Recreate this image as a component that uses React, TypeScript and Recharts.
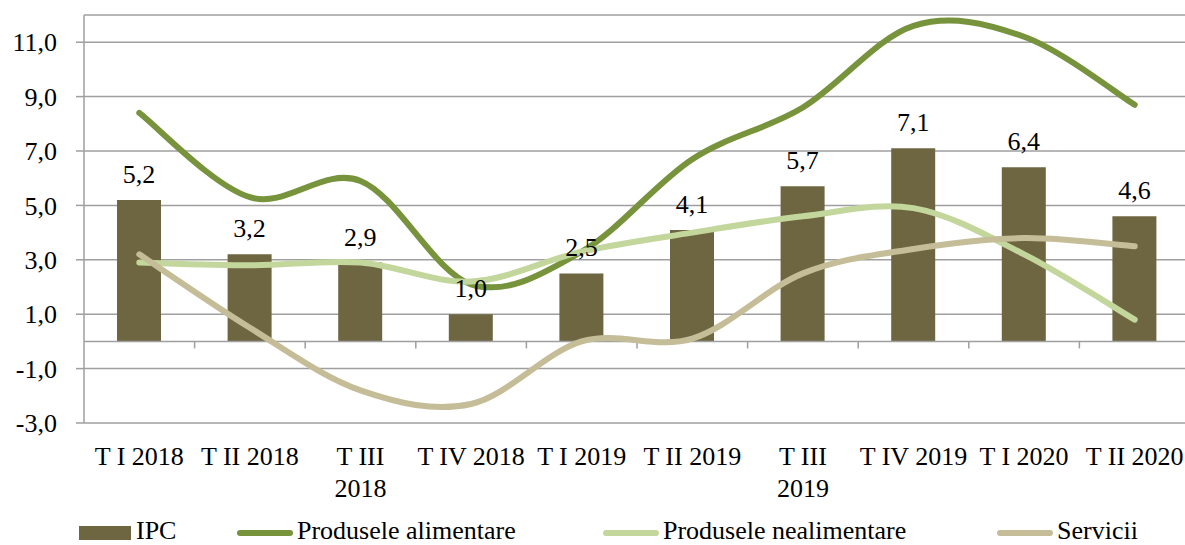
import React from "react";
import {
  ComposedChart,
  Bar,
  Line,
  XAxis,
  YAxis,
  CartesianGrid,
  ReferenceLine,
  LabelList,
} from "recharts";

// trimestre
const categories = [
  "T I 2018",
  "T II 2018",
  "T III\n2018",
  "T IV 2018",
  "T I 2019",
  "T II 2019",
  "T III\n2019",
  "T IV 2019",
  "T I 2020",
  "T II 2020",
];
const ipc = [5.2, 3.2, 2.9, 1.0, 2.5, 4.1, 5.7, 7.1, 6.4, 4.6];
const alimentare = [8.4, 5.3, 5.9, 2.1, 3.3, 6.7, 8.6, 11.6, 11.2, 8.7];
const nealimentare = [2.9, 2.8, 2.9, 2.2, 3.3, 4.0, 4.6, 4.9, 3.2, 0.8];
const servicii = [3.2, 0.5, -1.8, -2.3, 0.0, 0.1, 2.5, 3.4, 3.8, 3.5];
const yTicks = [-3, -1, 1, 3, 5, 7, 9, 11];

const FONT = "'Liberation Serif', 'Times New Roman', serif";
const GRID = "#9f9f9f";
const COLORS = {
  ipc: "#6e6641",
  alimentare: "#77933c",
  nealimentare: "#c3d69b",
  servicii: "#c4bd97",
};

const data = categories.map((cat, i) => ({
  cat,
  ipc: ipc[i],
  alimentare: alimentare[i],
  nealimentare: nealimentare[i],
  servicii: servicii[i],
}));

const fmt = (v: any) => Number(v).toFixed(1).replace(".", ",");

// netezire ca in Excel (Catmull-Rom -> Bezier)
const smoothCurve: any = (context: any) => {
  let pts: number[][] = [];
  return {
    areaStart() {},
    areaEnd() {},
    lineStart() {
      pts = [];
    },
    point(x: number, y: number) {
      pts.push([+x, +y]);
    },
    lineEnd() {
      const n = pts.length;
      if (!n) return;
      context.moveTo(pts[0][0], pts[0][1]);
      for (let i = 0; i < n - 1; i++) {
        const p0 = pts[Math.max(i - 1, 0)];
        const p1 = pts[i];
        const p2 = pts[i + 1];
        const p3 = pts[Math.min(i + 2, n - 1)];
        context.bezierCurveTo(
          p1[0] + (p2[0] - p0[0]) / 6,
          p1[1] + (p2[1] - p0[1]) / 6,
          p2[0] - (p3[0] - p1[0]) / 6,
          p2[1] - (p3[1] - p1[1]) / 6,
          p2[0],
          p2[1]
        );
      }
    },
  };
};

// axa orizontala la 0 cu marcaje intre categorii
function ZeroAxis(props: any) {
  const { x1, x2, y1 } = props;
  const step = (x2 - x1) / categories.length;
  return (
    <g>
      <line x1={x1} x2={x2} y1={y1} y2={y1} stroke={GRID} strokeWidth={1.5} />
      {categories.slice(1).map((_, i) => (
        <line
          key={i}
          x1={x1 + step * (i + 1)}
          x2={x1 + step * (i + 1)}
          y1={y1}
          y2={y1 + 7}
          stroke={GRID}
          strokeWidth={1.5}
        />
      ))}
    </g>
  );
}

function CategoryTick(props: any) {
  const { x, y, payload } = props;
  const lines = String(payload.value).split("\n");
  return (
    <text x={x} y={y} textAnchor="middle" fontFamily={FONT} fontSize={26} fill="#000">
      {lines.map((l, i) => (
        <tspan key={i} x={x} dy={i === 0 ? 42 : 32}>
          {l}
        </tspan>
      ))}
    </text>
  );
}

const legendItems = [
  { name: "IPC", color: COLORS.ipc, kind: "bar", left: 79 },
  { name: "Produsele alimentare", color: COLORS.alimentare, kind: "line", left: 237 },
  { name: "Produsele nealimentare", color: COLORS.nealimentare, kind: "line", left: 603 },
  { name: "Servicii", color: COLORS.servicii, kind: "line", left: 997 },
];

function LegendRow() {
  return (
    <>
      {legendItems.map((it) => (
        <div key={it.name}>
          {it.kind === "bar" ? (
            <div
              style={{
                position: "absolute",
                left: it.left,
                top: 526,
                width: 52,
                height: 14,
                background: it.color,
              }}
            />
          ) : (
            <div
              style={{
                position: "absolute",
                left: it.left,
                top: 530,
                width: 56,
                height: 6,
                borderRadius: 3,
                background: it.color,
              }}
            />
          )}
          <span
            style={{
              position: "absolute",
              left: it.left + (it.kind === "bar" ? 57 : 60),
              top: 518,
              fontFamily: FONT,
              fontSize: 26,
              lineHeight: "26px",
              whiteSpace: "nowrap",
              color: "#000",
            }}
          >
            {it.name}
          </span>
        </div>
      ))}
    </>
  );
}

export default function App() {
  return (
    <div
      style={{
        position: "absolute",
        left: 0,
        top: 0,
        width: 1185,
        height: 545,
        overflow: "hidden",
        background: "#fff",
      }}
    >
      <ComposedChart
        width={1195}
        height={545}
        data={data}
        margin={{ top: 15, right: 5, bottom: 22, left: 0 }}
      >
        <CartesianGrid vertical={false} stroke={GRID} strokeWidth={1.5} />
        <XAxis
          dataKey="cat"
          height={100}
          axisLine={false}
          tickLine={false}
          tickSize={0}
          tickMargin={0}
          interval={0}
          tick={<CategoryTick />}
        />
        <XAxis xAxisId="lbl" dataKey="cat" hide />
        <YAxis
          width={84}
          domain={[-3, 12]}
          ticks={yTicks}
          interval={0}
          tickFormatter={fmt}
          axisLine={{ stroke: GRID, strokeWidth: 1.5 }}
          tickLine={{ stroke: GRID, strokeWidth: 1.5 }}
          tickSize={8}
          tickMargin={19}
          tick={{ fontFamily: FONT, fontSize: 26, fill: "#000" }}
        />
        <ReferenceLine y={0} shape={(p: any) => <ZeroAxis {...p} />} />
        <Bar dataKey="ipc" name="IPC" fill={COLORS.ipc} barSize={44} isAnimationActive={false} />
        <Line
          dataKey="alimentare"
          name="Produsele alimentare"
          type={smoothCurve}
          stroke={COLORS.alimentare}
          strokeWidth={6}
          strokeLinecap="round"
          dot={false}
          activeDot={false}
          isAnimationActive={false}
        />
        <Line
          dataKey="nealimentare"
          name="Produsele nealimentare"
          type={smoothCurve}
          stroke={COLORS.nealimentare}
          strokeWidth={6}
          strokeLinecap="round"
          dot={false}
          activeDot={false}
          isAnimationActive={false}
        />
        <Line
          dataKey="servicii"
          name="Servicii"
          type={smoothCurve}
          stroke={COLORS.servicii}
          strokeWidth={6}
          strokeLinecap="round"
          dot={false}
          activeDot={false}
          isAnimationActive={false}
        />
        {/* etichetele IPC deasupra liniilor */}
        <Bar
          xAxisId="lbl"
          dataKey="ipc"
          fill="transparent"
          barSize={44}
          isAnimationActive={false}
          legendType="none"
        >
          <LabelList
            dataKey="ipc"
            position="top"
            offset={17}
            formatter={fmt}
            fill="#000"
            fontSize={26}
            fontFamily={FONT}
          />
        </Bar>
      </ComposedChart>
      <LegendRow />
    </div>
  );
}
